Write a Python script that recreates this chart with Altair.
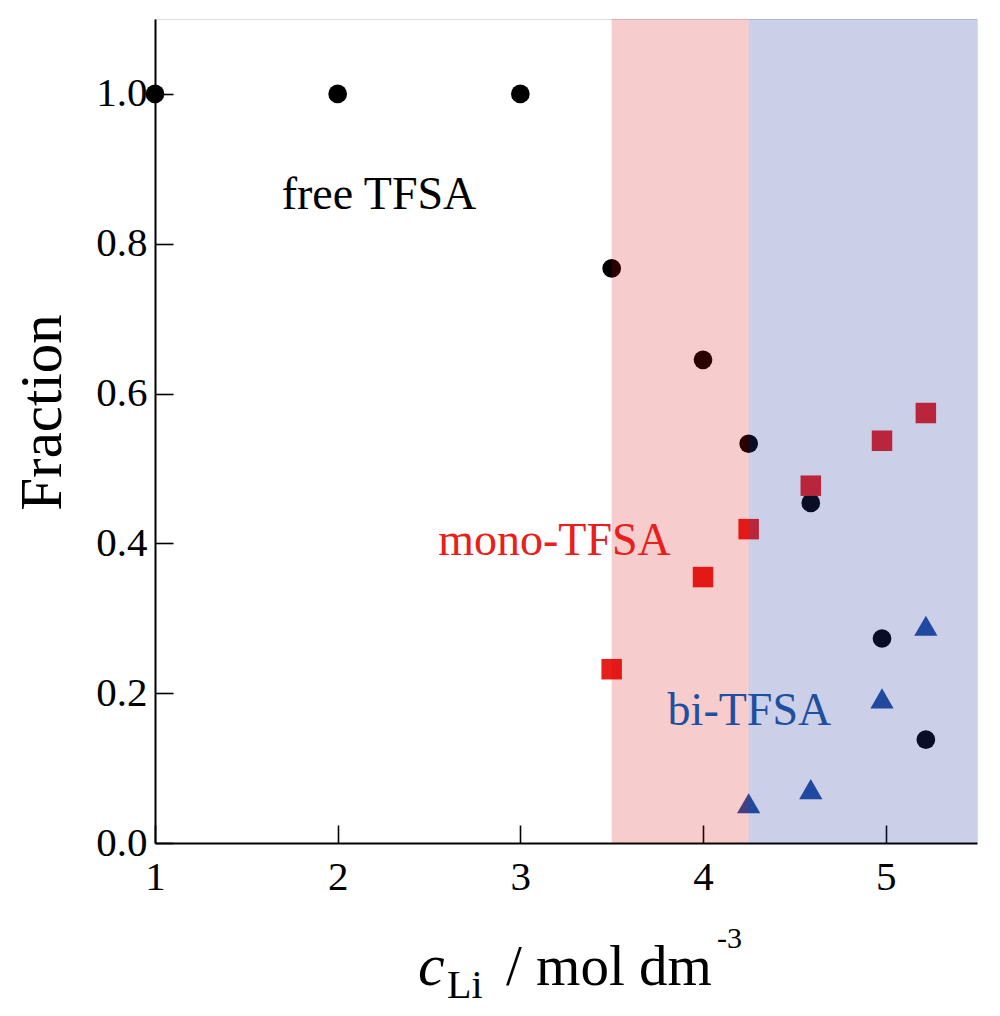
import altair as alt
import pandas as pd

# ---- data ----
free_x = [1, 2, 3, 3.5, 4, 4.25, 4.59, 4.98, 5.22]
free_y = [1.0, 1.0, 1.0, 0.767, 0.645, 0.533, 0.454, 0.273, 0.138]

mono_x = [3.5, 4, 4.25, 4.59, 4.98, 5.22]
mono_y = [0.232, 0.355, 0.419, 0.477, 0.537, 0.574]

bi_x = [4.25, 4.59, 4.98, 5.22]
bi_y = [0.053, 0.072, 0.193, 0.290]

band_edges = [3.5, 4.25, 5.5]  # pink: 3.5-4.25, blue: 4.25-5.5

label_text = ["free TFSA", "mono-TFSA", "bi-TFSA"]
label_x = [2.226, 3.187, 4.254]
label_y = [0.847, 0.384, 0.157]

x_ticks = [1, 2, 3, 4, 5]
y_ticks = [0.0, 0.2, 0.4, 0.6, 0.8, 1.0]
x_domain = [1, 5.5]
y_domain = [0, 1.1]

# ---- layout ----
W, H = 822, 824
FONT = "Liberation Serif"
RED = "#e8201c"
BLUE = "#1f4fa0"

XS = alt.Scale(domain=x_domain, nice=False, zero=False)
YS = alt.Scale(domain=y_domain, nice=False, zero=False)

free_df = pd.DataFrame({"x": free_x, "y": free_y})
mono_df = pd.DataFrame({"x": mono_x, "y": mono_y})
bi_df = pd.DataFrame({"x": bi_x, "y": bi_y})
pink_df = pd.DataFrame({"x0": [band_edges[0]], "x1": [band_edges[1]]})
blue_df = pd.DataFrame({"x0": [band_edges[1]], "x1": [band_edges[2]]})

x_axis_main = alt.Axis(orient="bottom", values=x_ticks, format="d", ticks=False,
                       labelFont=FONT, labelFontSize=41, labelColor="black",
                       labelPadding=14, labelFlush=False, labelOverlap=False,
                       domain=True, domainColor="black", domainWidth=2,
                       grid=False, title=None)
y_axis_main = alt.Axis(orient="left", values=y_ticks, format=".1f", ticks=False,
                       labelFont=FONT, labelFontSize=41, labelColor="black",
                       labelPadding=8, labelFlush=False, labelOverlap=False,
                       domain=True, domainColor="black", domainWidth=2,
                       grid=False, title="Fraction", titleFont=FONT,
                       titleFontSize=59, titleFontWeight="normal", titleColor="black",
                       titleAngle=270, titleAlign="center", titleBaseline="alphabetic",
                       titleX=-95, titleY=393)
x_axis_in = alt.Axis(orient="top", values=x_ticks, labels=False, ticks=True,
                     tickSize=18, tickColor="black", tickWidth=1.6, domain=False,
                     grid=False, title=None, offset=-H)
y_axis_in = alt.Axis(orient="right", values=y_ticks, labels=False, ticks=True,
                     tickSize=18, tickColor="black", tickWidth=1.6, domain=False,
                     grid=False, title=None, offset=-W)

free_pts = alt.Chart(free_df).mark_point(shape="circle", filled=True, size=350,
                                          color="black", opacity=1, clip=False).encode(
    x=alt.X("x:Q", scale=XS, axis=x_axis_main),
    y=alt.Y("y:Q", scale=YS, axis=y_axis_main),
)
mono_pts = alt.Chart(mono_df).mark_point(shape="square", filled=True, size=420,
                                          color=RED, opacity=1).encode(
    x=alt.X("x:Q", scale=XS, axis=x_axis_in),
    y=alt.Y("y:Q", scale=YS, axis=y_axis_in),
)
bi_pts = alt.Chart(bi_df).mark_point(shape="triangle-up", filled=True, size=540,
                                      color=BLUE, opacity=1).encode(
    x=alt.X("x:Q", scale=XS, axis=None),
    y=alt.Y("y:Q", scale=YS, axis=None),
)

pink = alt.Chart(pink_df).mark_rect(color="#d70000", opacity=0.2).encode(
    x=alt.X("x0:Q", scale=XS, axis=None),
    x2="x1:Q",
)
blue = alt.Chart(blue_df).mark_rect(color="#26379f", opacity=0.24).encode(
    x=alt.X("x0:Q", scale=XS, axis=None),
    x2="x1:Q",
)

labels = []
for t, lx, ly, col in zip(label_text, label_x, label_y, ["black", RED, BLUE]):
    d = pd.DataFrame({"x": [lx], "y": [ly], "t": [t]})
    labels.append(
        alt.Chart(d).mark_text(font=FONT, fontSize=46, color=col, align="center",
                               baseline="alphabetic").encode(
            x=alt.X("x:Q", scale=XS, axis=None),
            y=alt.Y("y:Q", scale=YS, axis=None),
            text="t:N",
        )
    )

# x-axis title built from pieces: c_Li / mol dm^-3
def piece(txt, px, py, size, style="normal"):
    d = pd.DataFrame({"t": [txt]})
    return alt.Chart(d).mark_text(font=FONT, fontSize=size, fontStyle=style,
                                  color="black", align="left",
                                  baseline="alphabetic").encode(
        x=alt.value(px), y=alt.value(py), text="t:N")

xt_c = piece("c", 263, 966, 60, "italic")
xt_li = piece("Li", 292, 979, 40)
xt_unit = piece("/ mol dm", 351, 966, 57)
xt_exp = piece("-3", 562, 929, 30)

chart = alt.layer(
    free_pts, mono_pts, bi_pts, pink, blue, *labels, xt_c, xt_li, xt_unit, xt_exp
).resolve_scale(x="shared", y="shared").resolve_axis(
    x="independent", y="independent"
).properties(
    width=W, height=H,
    padding={"left": 147, "top": 11, "right": 15, "bottom": 165},
    autosize=alt.AutoSizeParams(type="none"),
).configure_view(stroke="black", strokeWidth=2).configure(background="white")

chart.save("out.html", embed_options={"renderer": "svg", "actions": False})
